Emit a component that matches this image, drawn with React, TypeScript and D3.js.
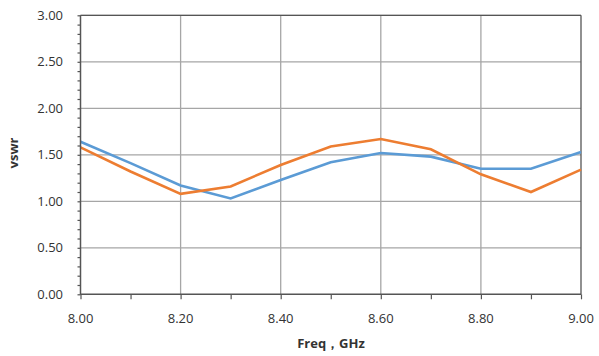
import React, { useEffect, useRef } from 'react';
import * as d3 from 'd3';

const freqs = [8.0, 8.1, 8.2, 8.3, 8.4, 8.5, 8.6, 8.7, 8.8, 8.9, 9.0];
const blueSeries = [1.64, 1.41, 1.17, 1.03, 1.23, 1.42, 1.52, 1.48, 1.35, 1.35, 1.53];
const orangeSeries = [1.58, 1.32, 1.08, 1.16, 1.39, 1.59, 1.67, 1.56, 1.29, 1.10, 1.34];
const xTicks = [8.0, 8.2, 8.4, 8.6, 8.8, 9.0];
const yTicks = [0, 0.5, 1.0, 1.5, 2.0, 2.5, 3.0];

const W = 599;
const H = 356;

const App = () => {
  const svgRef = useRef<SVGSVGElement>(null);

  useEffect(() => {
    const svg = d3.select(svgRef.current);
    svg.selectAll('*').remove();

    const left = 80.5, right = 581, top = 15.3, bottom = 294.3;
    const x = d3.scaleLinear().domain([8, 9]).range([left, right]);
    const y = d3.scaleLinear().domain([0, 3]).range([bottom, top]);
    const font = "'Open Sans', 'Liberation Sans', sans-serif";
    const axisColor = '#555';
    const textColor = '#333';

    // gridlines
    const g = svg.append('g');
    g.selectAll('.hg')
      .data(yTicks.slice(1))
      .enter()
      .append('line')
      .attr('x1', left).attr('x2', right)
      .attr('y1', d => y(d)).attr('y2', d => y(d))
      .attr('stroke', '#a6a6a6').attr('stroke-width', 1.3);
    g.selectAll('.vg')
      .data(xTicks.slice(1, -1))
      .enter()
      .append('line')
      .attr('y1', top).attr('y2', bottom)
      .attr('x1', d => x(d)).attr('x2', d => x(d))
      .attr('stroke', '#a6a6a6').attr('stroke-width', 1.3);

    // border (top / right)
    g.append('line').attr('x1', left).attr('x2', right).attr('y1', top).attr('y2', top)
      .attr('stroke', axisColor).attr('stroke-width', 1.3);
    g.append('line').attr('x1', right).attr('x2', right).attr('y1', top).attr('y2', bottom)
      .attr('stroke', axisColor).attr('stroke-width', 1.3);

    // lines
    const line = d3.line<number>()
      .x((_, i) => x(freqs[i]))
      .y(d => y(d));
    svg.append('path').datum(blueSeries).attr('d', line)
      .attr('fill', 'none').attr('stroke', '#5b9bd5').attr('stroke-width', 2.6);
    svg.append('path').datum(orangeSeries).attr('d', line)
      .attr('fill', 'none').attr('stroke', '#ed7d31').attr('stroke-width', 2.6);

    // y axis
    const yAxis = svg.append('g')
      .attr('transform', `translate(${left},0)`)
      .call(d3.axisLeft(y).tickValues(d3.range(0, 3.001, 0.1)).tickSize(3).tickFormat(() => ''));
    yAxis.select('.domain').remove();
    yAxis.selectAll('.tick line').attr('stroke', axisColor).attr('stroke-width', 1.2);
    svg.append('g')
      .selectAll('text')
      .data(yTicks)
      .enter()
      .append('text')
      .attr('x', 63)
      .attr('y', d => y(d))
      .attr('dy', '0.35em')
      .attr('text-anchor', 'end')
      .attr('font-family', font)
      .attr('font-size', 13)
      .attr('fill', textColor)
      .text(d => d.toFixed(2));
    svg.append('line').attr('x1', left).attr('x2', left).attr('y1', top).attr('y2', bottom + 0.5)
      .attr('stroke', axisColor).attr('stroke-width', 1.5);

    // x axis
    const xAxis = svg.append('g')
      .attr('transform', `translate(0,${bottom})`)
      .call(d3.axisBottom(x).tickValues(freqs).tickSize(5).tickFormat(() => ''));
    xAxis.select('.domain').remove();
    xAxis.selectAll('.tick line').attr('stroke', axisColor).attr('stroke-width', 1.2);
    svg.append('g')
      .selectAll('text')
      .data(xTicks)
      .enter()
      .append('text')
      .attr('x', d => x(d))
      .attr('y', 323)
      .attr('text-anchor', 'middle')
      .attr('font-family', font)
      .attr('font-size', 13)
      .attr('fill', textColor)
      .text(d => d.toFixed(2));
    svg.append('line').attr('x1', left).attr('x2', right).attr('y1', bottom).attr('y2', bottom)
      .attr('stroke', axisColor).attr('stroke-width', 1.5);

    // axis titles
    svg.append('text')
      .attr('x', 331).attr('y', 348)
      .attr('text-anchor', 'middle')
      .attr('font-family', font)
      .attr('font-size', 13)
      .attr('font-weight', 'bold')
      .attr('fill', textColor)
      .text('Freq，GHz');
    svg.append('text')
      .attr('transform', 'translate(18,153) rotate(-90)')
      .attr('text-anchor', 'middle')
      .attr('font-family', font)
      .attr('font-size', 13)
      .attr('font-weight', 'bold')
      .attr('fill', textColor)
      .text('vswr');
  }, []);

  return (
    <div style={{ position: 'absolute', left: 0, top: 0 }}>
      <svg ref={svgRef} width={W} height={H} style={{ display: 'block', background: '#fff' }}></svg>
    </div>
  );
};

export default App;
